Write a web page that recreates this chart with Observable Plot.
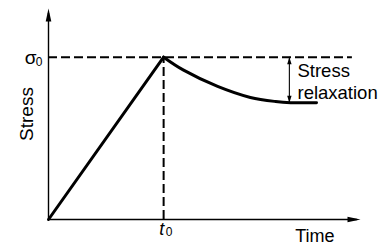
<!DOCTYPE html>
<html>
<head>
<meta charset="utf-8">
<script src="https://cdn.jsdelivr.net/npm/d3@7"></script>
<script src="https://cdn.jsdelivr.net/npm/@observablehq/plot@0.6"></script>
<style>
  html, body { margin: 0; padding: 0; background: #fff; }
  #chart svg { display: block; }
</style>
</head>
<body>
<div id="chart"></div>
<script>
// Values (arbitrary units): time 0..10, stress with σ0 = 1
const t0 = 3.69;
const sigma0 = 1;
const timeMax = 10;
const stressMax = 1.3;

const loadTime = [0, t0];
const loadStress = [0, sigma0];

const relaxTime = [3.69, 4.33, 5.42, 6.47, 7.28, 7.76, 8.59];
const relaxStress = [1.0, 0.92, 0.82, 0.752, 0.727, 0.72, 0.72];

const dashEndTime = 9.74;
const relaxArrowTime = 7.72;
const relaxFinal = 0.72;
const relaxLabelTime = 7.98;
const relaxLabelStress = 0.855;
const yTitleTime = -0.68;
const yTitleStress = 0.65;

const load = loadTime.map((t, i) => ({t, s: loadStress[i]}));
const relax = relaxTime.map((t, i) => ({t, s: relaxStress[i]}));

const font = "Liberation Sans, Arial, Helvetica, sans-serif";

const chart = Plot.plot({
  width: 389,
  height: 246,
  marginLeft: 48,
  marginRight: 29,
  marginTop: 8,
  marginBottom: 27,
  style: {fontFamily: font, background: "#fff", color: "#000"},
  x: {domain: [0, timeMax], axis: null},
  y: {domain: [0, stressMax], axis: null},
  marks: [
    // reference dashed lines
    Plot.ruleY([sigma0], {x1: 0, x2: dashEndTime, stroke: "#000", strokeWidth: 2, strokeDasharray: "9,4"}),
    Plot.ruleX([t0], {y1: 0, y2: sigma0, stroke: "#000", strokeWidth: 2, strokeDasharray: "9,4"}),
    // axes
    Plot.ruleX([0], {y1: 0, y2: stressMax - 0.03, stroke: "#000", strokeWidth: 1.4}),
    Plot.ruleY([0], {x1: 0, x2: timeMax - 0.1, stroke: "#000", strokeWidth: 1.4}),
    // loading and relaxation curves
    Plot.line(load, {x: "t", y: "s", stroke: "#000", strokeWidth: 3}),
    Plot.line(relax, {x: "t", y: "s", stroke: "#000", strokeWidth: 3, curve: "catmull-rom"}),
    // stress relaxation double arrow
    Plot.ruleX([relaxArrowTime], {y1: sigma0, y2: relaxFinal, stroke: "#000", strokeWidth: 1.1}),
    Plot.text(["Stress\nrelaxation"], {x: relaxLabelTime, y: relaxLabelStress, textAnchor: "start", lineAnchor: "middle", lineHeight: 1.2, fontSize: 18.5, fill: "#000"}),
    // tick labels: σ0 and t0 with subscripts
    Plot.text(["σ"], {x: 0, y: sigma0, dx: -12, dy: 1, textAnchor: "end", lineAnchor: "middle", fontSize: 19, fill: "#000"}),
    Plot.text(["0"], {x: 0, y: sigma0, dx: -6, dy: 5, textAnchor: "end", lineAnchor: "middle", fontSize: 12, fill: "#000"}),
    Plot.text(["t"], {x: t0, y: 0, dx: -2, dy: 3, textAnchor: "middle", lineAnchor: "top", fontSize: 18, fontStyle: "italic", fill: "#000"}),
    Plot.text(["0"], {x: t0, y: 0, dx: 2, dy: 8, textAnchor: "start", lineAnchor: "top", fontSize: 12, fill: "#000"}),
    // axis titles
    Plot.text(["Stress"], {x: yTitleTime, y: yTitleStress, rotate: -90, textAnchor: "middle", lineAnchor: "middle", fontSize: 19, fill: "#000"}),
    Plot.text(["Time"], {frameAnchor: "bottom-right", dx: -26, dy: 10, textAnchor: "end", lineAnchor: "top", fontSize: 18, fill: "#000"}),
    // arrowheads (drawn last)
    Plot.vector([0], {x: 0, y: stressMax, shape: "spike", length: 13, r: 2.8, anchor: "end", rotate: 0, fill: "#000", stroke: "none"}),
    Plot.vector([0], {x: timeMax, y: 0, shape: "spike", length: 13, r: 2.8, anchor: "end", rotate: 90, fill: "#000", stroke: "none"}),
    Plot.vector([0], {x: relaxArrowTime, y: sigma0, shape: "spike", length: 7, r: 2.2, anchor: "end", rotate: 0, fill: "#000", stroke: "none"}),
    Plot.vector([0], {x: relaxArrowTime, y: relaxFinal, shape: "spike", length: 7, r: 2.2, anchor: "end", rotate: 180, fill: "#000", stroke: "none"})
  ]
});
document.getElementById("chart").appendChild(chart);
</script>
</body>
</html>
